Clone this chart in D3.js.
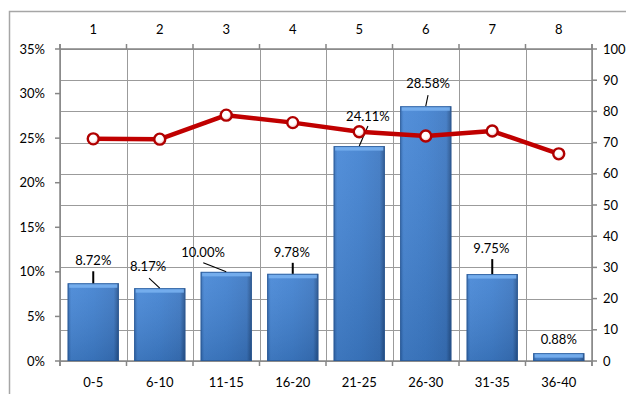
<!DOCTYPE html>
<html><head><meta charset="utf-8">
<script src="https://cdn.jsdelivr.net/npm/d3@7/dist/d3.min.js"></script>
<style>
body{margin:0;background:#fff;}
svg{display:block;font-family:Lato,"Open Sans",sans-serif;}
</style></head>
<body><svg id="c" width="626" height="394"></svg>
<script>
const categories = ["0-5","6-10","11-15","16-20","21-25","26-30","31-35","36-40"];
const barValues = [8.72, 8.17, 10.00, 9.78, 24.11, 28.58, 9.75, 0.88];
const barLabels = ["8.72%","8.17%","10.00%","9.78%","24.11%","28.58%","9.75%","0.88%"];
const topCategories = ["1","2","3","4","5","6","7","8"];
const lineValues = [71.2, 71.1, 78.8, 76.4, 73.5, 72.1, 73.7, 66.4];
const leftTicks = [0,5,10,15,20,25,30,35];
const rightTicks = [0,10,20,30,40,50,60,70,80,90,100];

// label layout (offsets from bar top centre): [labelDx, labelDy, leaderDx, leaderDy]
const labelLayout = [[0,-22.6,0,-12],[-11.7,-21.5,-10.7,-10],[-23.2,-19.2,-23,-9],[-1,-21.1,0,-11],
                     [8.7,-30,8.7,-20],[2.3,-23,2.3,-11],[-1,-25.8,0,-15],[0,-14.2,null,null]];

const svg = d3.select("#c");
const L=60, R=592, T=49, B=361;
const defs = svg.append("defs");

const x = d3.scaleBand().domain(categories).range([L,R]).paddingInner(0.23).paddingOuter(0.115);
const xTop = d3.scaleBand().domain(topCategories).range([L,R]).paddingInner(0.23).paddingOuter(0.115);
const y = d3.scaleLinear().domain([0,35]).range([B,T]);
const y2 = d3.scaleLinear().domain([0,100]).range([B,T]);

// outer border
svg.append("rect").attr("x",9.5).attr("y",11.5).attr("width",640).attr("height",400)
  .attr("fill","none").attr("stroke","#a6a6a6").attr("stroke-width",1.5);

// gradients
const gb = defs.append("linearGradient").attr("id","barH").attr("x1",0).attr("x2",1).attr("y1",0).attr("y2",0);
gb.append("stop").attr("offset",0).attr("stop-color","#2f68b0");
gb.append("stop").attr("offset",0.07).attr("stop-color","#4586d6");
gb.append("stop").attr("offset",0.5).attr("stop-color","#3f80d0");
gb.append("stop").attr("offset",0.9).attr("stop-color","#3a76c2");
gb.append("stop").attr("offset",1).attr("stop-color","#24508a");
const gv = defs.append("linearGradient").attr("id","barV").attr("x1",0).attr("x2",0).attr("y1",0).attr("y2",1);
gv.append("stop").attr("offset",0).attr("stop-color","#ffffff").attr("stop-opacity",0.08);
gv.append("stop").attr("offset",1).attr("stop-color","#000000").attr("stop-opacity",0.12);
const gm = defs.append("radialGradient").attr("id","mk").attr("cx","45%").attr("cy","40%").attr("r","60%");
gm.append("stop").attr("offset",0).attr("stop-color","#ffffff");
gm.append("stop").attr("offset",0.5).attr("stop-color","#ffffff");
gm.append("stop").attr("offset",1).attr("stop-color","#f0a8a8");

// horizontal gridlines (secondary axis)
svg.append("g").selectAll("line").data(rightTicks).join("line")
  .attr("x1",L).attr("x2",R).attr("y1",d=>Math.round(y2(d))+0.5).attr("y2",d=>Math.round(y2(d))+0.5)
  .attr("stroke","#9b9b9b").attr("stroke-width",1);
// vertical gridlines at band boundaries
const bounds = d3.range(categories.length+1).map(i=>L+i*x.step());
svg.append("g").selectAll("line").data(bounds).join("line")
  .attr("x1",d=>Math.round(d)+0.5).attr("x2",d=>Math.round(d)+0.5).attr("y1",T).attr("y2",B)
  .attr("stroke","#9b9b9b").attr("stroke-width",1);

// axes
const ax = svg.append("g").attr("stroke","#868686").attr("stroke-width",1.5);
ax.append("line").attr("x1",L).attr("x2",L).attr("y1",T-5).attr("y2",B+5);
ax.append("line").attr("x1",R).attr("x2",R).attr("y1",T-5).attr("y2",B+5);
ax.append("line").attr("x1",L).attr("x2",R).attr("y1",B).attr("y2",B);
ax.append("line").attr("x1",L).attr("x2",R).attr("y1",T).attr("y2",T);
ax.selectAll(".tb").data(bounds).join("line").attr("x1",d=>d).attr("x2",d=>d).attr("y1",B).attr("y2",B+5);
ax.selectAll(".tt").data(bounds).join("line").attr("x1",d=>d).attr("x2",d=>d).attr("y1",T-5).attr("y2",T);
ax.selectAll(".tl").data(leftTicks).join("line").attr("x1",L-5).attr("x2",L).attr("y1",d=>y(d)).attr("y2",d=>y(d));
ax.selectAll(".tr").data(rightTicks).join("line").attr("x1",R).attr("x2",R+5).attr("y1",d=>y2(d)).attr("y2",d=>y2(d));

// bars
const bars = svg.append("g");
barValues.forEach((v,i)=>{
  const bx = x(categories[i]), bw = x.bandwidth(), by = y(v), bh = B-by;
  bars.append("rect").attr("x",bx).attr("y",by).attr("width",bw).attr("height",bh).attr("fill","url(#barH)");
  bars.append("rect").attr("x",bx).attr("y",by).attr("width",bw).attr("height",bh).attr("fill","url(#barV)");
  bars.append("rect").attr("x",bx+1.5).attr("y",by+0.5).attr("width",bw-3).attr("height",Math.min(4,bh-1))
    .attr("fill","#78b0f0").attr("opacity",0.9);
  bars.append("rect").attr("x",bx+0.5).attr("y",by+0.5).attr("width",bw-1).attr("height",Math.max(0,bh-1))
    .attr("fill","none").attr("stroke","#2a5894").attr("stroke-width",1).attr("opacity",0.75);
});

// text styles
const txt = (sel)=>sel.attr("font-size",13).attr("fill","#000");

// left tick labels
svg.append("g").selectAll("text").data(leftTicks).join("text").call(txt)
  .attr("x",45).attr("y",d=>y(d)).attr("dy","0.35em").attr("text-anchor","end").text(d=>d+"%");
// right tick labels
svg.append("g").selectAll("text").data(rightTicks).join("text").call(txt)
  .attr("x",603).attr("y",d=>y2(d)).attr("dy","0.35em").attr("text-anchor","start").text(d=>d);
// bottom categories
svg.append("g").selectAll("text").data(categories).join("text").call(txt)
  .attr("x",d=>x(d)+x.bandwidth()/2).attr("y",382).attr("dy","0.35em").attr("text-anchor","middle").text(d=>d);
// top categories
svg.append("g").selectAll("text").data(topCategories).join("text").call(txt)
  .attr("x",d=>xTop(d)+xTop.bandwidth()/2).attr("y",29.5).attr("dy","0.35em").attr("text-anchor","middle").text(d=>d);

// data labels + leader lines
const lab = svg.append("g");
barValues.forEach((v,i)=>{
  const cx = x(categories[i])+x.bandwidth()/2, top = y(v);
  const [ldx,ldy,sdx,sdy] = labelLayout[i];
  if(sdx!==null){
    const vertical = Math.abs(sdx) < 1;
    lab.append("line").attr("x1",cx+sdx).attr("y1",top+sdy).attr("x2",cx).attr("y2",top)
      .attr("stroke","#000").attr("stroke-width",vertical?2:1.1);
  }
  lab.append("text").call(txt).attr("x",cx+ldx).attr("y",top+ldy).attr("dy","0.35em")
    .attr("text-anchor","middle").text(barLabels[i]);
});

// line series
const lx = d=>xTop(d)+xTop.bandwidth()/2;
const lineGen = d3.line().x((d,i)=>lx(topCategories[i])).y(d=>y2(d));
svg.append("path").datum(lineValues).attr("d",lineGen).attr("fill","none")
  .attr("stroke","#c00000").attr("stroke-width",4.5).attr("stroke-linejoin","round");
svg.append("g").selectAll("circle").data(lineValues).join("circle")
  .attr("cx",(d,i)=>lx(topCategories[i])).attr("cy",d=>y2(d)).attr("r",5.5)
  .attr("fill","url(#mk)").attr("stroke","#b00000").attr("stroke-width",2.4);
</script></body></html>
